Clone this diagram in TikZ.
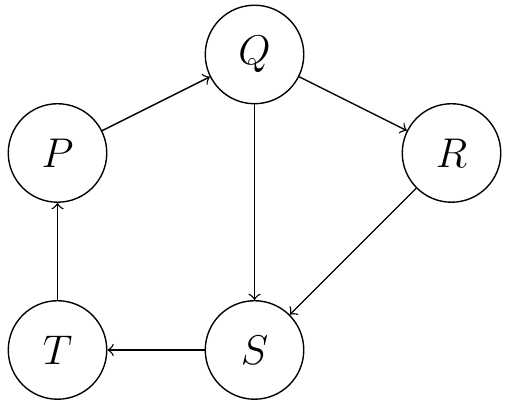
\documentclass[tikz,border=0pt]{standalone}
\begin{document}
\begin{tikzpicture}[x=1cm,y=1cm,
  vert/.style={circle,draw,minimum size=1cm,inner sep=0pt,font=\large},
  edge/.style={->}]
\useasboundingbox (-0.584,-0.579) rectangle (4.553,3.553);
\node[vert] (P) at (0,2) {$P$};
\node[vert] (Q) at (2,3) {$Q$};
\node[vert] (R) at (4,2) {$R$};
\node[vert] (S) at (2,0) {$S$};
\node[vert] (T) at (0,0) {$T$};
\draw[edge] (P) -- (Q);
\draw[edge] (Q) -- (R);
\draw[edge] (Q) -- (S);
\draw[edge] (R) -- (S);
\draw[edge] (S) -- (T);
\draw[edge] (T) -- (P);
\end{tikzpicture}
\end{document}
